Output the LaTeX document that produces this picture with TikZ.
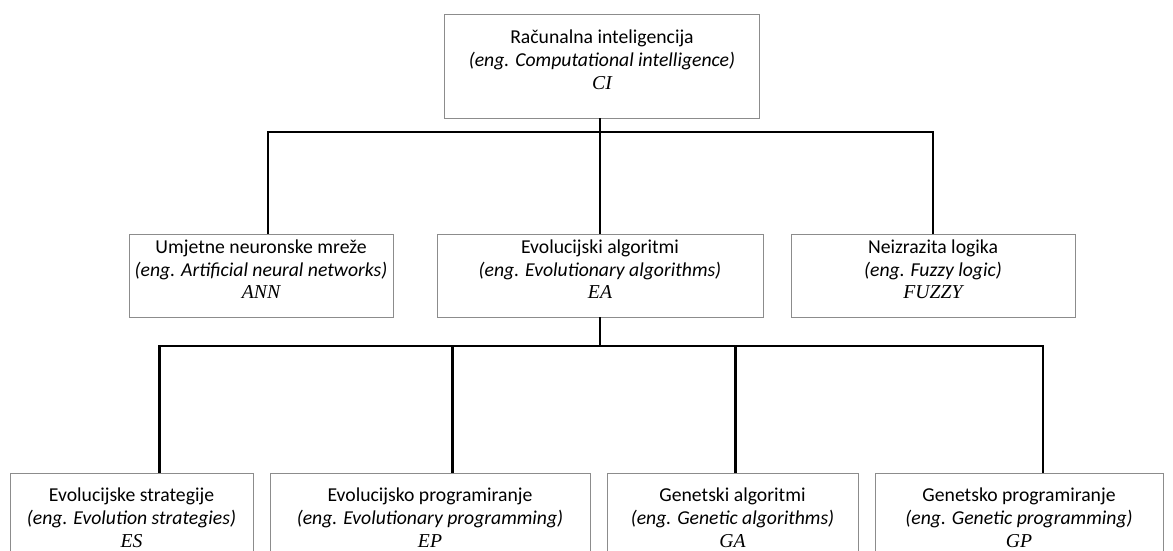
\documentclass[tikz,border=0pt]{standalone}
\usepackage{fontspec}
\setmainfont{Carlito}
\newfontfamily\kratica{Liberation Serif}
\usetikzlibrary{positioning}

\tikzset{
  blok/.style={draw=black!45, line width=0.5pt, fill=white, align=center,
    inner sep=2pt, minimum height=#1, font=\fontsize{14}{16.3}\selectfont},
  blok/.default=2.075cm,
  veza/.style={line width=2pt, black},
}
% tri retka: naziv, engleski naziv, kratica (#1 = dodatni prostor ispod)
\newcommand{\tekst}[4][9pt]{#2\\\textit{(eng. #3)}\\{\kratica\itshape #4}\rule[-#1]{0pt}{0pt}}

\begin{document}
\begin{tikzpicture}[x=0.025cm, y=-0.025cm]
			\clip (0,0) rectangle (1173,551);
			\fill[white] (0,0) rectangle (1173,551);
			% vrh
			\node[blok=2.6cm, minimum width=7.875cm] (CI) at (602,66) {\tekst{Računalna inteligencija}{Computational intelligence}{CI}};
			% prva razina
			\node[blok, minimum width=6.6cm] (ANN) at (261,275.5) {\tekst{Umjetne neuronske mreže}{Artificial neural networks}{ANN}};
			\node[blok, minimum width=8.15cm] (EA) at (600,275.5) {\tekst{Evolucijski algoritmi}{Evolutionary algorithms}{EA}};
			\node[blok, minimum width=7.1cm] (FUZZY) at (933,275.5) {\tekst{Neizrazita logika}{Fuzzy logic}{FUZZY}};
			% druga razina
			\node[blok=2.5cm, minimum width=6.075cm] (ES) at (131.5,523) {\tekst[7pt]{Evolucijske strategije}{Evolution strategies}{ES}};
			\node[blok=2.5cm, minimum width=8cm] (EP) at (430,523) {\tekst[7pt]{Evolucijsko programiranje}{Evolutionary programming}{EP}};
			\node[blok=2.5cm, minimum width=6.275cm] (GA) at (732.5,523) {\tekst[7pt]{Genetski algoritmi}{Genetic algorithms}{GA}};
			\node[blok=2.5cm, minimum width=7.2cm] (GP) at (1019,523) {\tekst[7pt]{Genetsko programiranje}{Genetic programming}{GP}};
			% veze
			\coordinate (bus1) at (600,132);
			\coordinate (bus2) at (600,346);
			\draw[veza] (CI.south -| bus1) -- (EA.north);
			\draw[veza] ([xshift=5pt]ANN.north) |- (bus1) -| (FUZZY.north);
			\draw[veza] (EA.south) -- (bus2);
			\draw[veza] ([xshift=20pt]ES.north) |- (bus2) -| ([xshift=17pt]GP.north);
			\draw[veza] ([xshift=16pt]EP.north) -- ([xshift=16pt]EP.north |- bus2);
			\draw[veza] ([xshift=2pt]GA.north) -- ([xshift=2pt]GA.north |- bus2);
        \end{tikzpicture}
\end{document}
